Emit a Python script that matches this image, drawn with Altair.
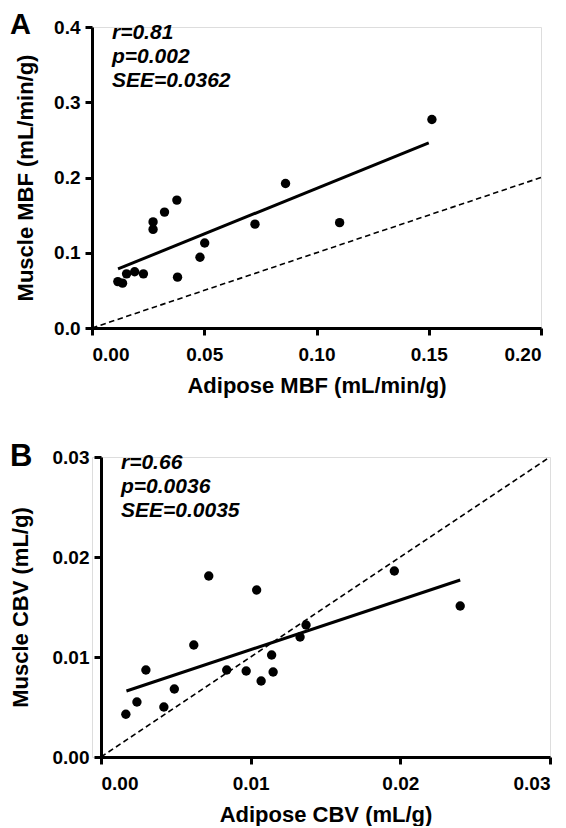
import altair as alt
import pandas as pd

# ---- Panel A data (MBF) ----
a_adipose = [0.0115, 0.0136, 0.0154, 0.0190, 0.0229, 0.0272, 0.0272, 0.0323,
             0.0378, 0.0381, 0.0481, 0.0502, 0.0726, 0.0862, 0.1103, 0.1514]
a_muscle = [0.0617, 0.0596, 0.0720, 0.0747, 0.0720, 0.1410, 0.1310, 0.1540,
            0.1700, 0.0676, 0.0940, 0.1130, 0.1380, 0.1920, 0.1400, 0.2770]
a_fit_x = [0.0116, 0.1500]
a_fit_y = [0.0785, 0.2460]
a_id = [0.0, 0.2]
a_stats = ["r=0.81", "p=0.002", "SEE=0.0362"]

# ---- Panel B data (CBV) ----
b_adipose = [0.00166, 0.0024, 0.0030, 0.0042, 0.0049, 0.0062, 0.0072, 0.0084,
             0.0097, 0.0104, 0.0107, 0.0114, 0.0115, 0.0133, 0.0137, 0.0196, 0.0240]
b_muscle = [0.00428, 0.0055, 0.0087, 0.0050, 0.0068, 0.0112, 0.0181, 0.0087,
            0.0086, 0.0167, 0.0076, 0.0102, 0.0085, 0.0120, 0.0132, 0.0186, 0.0151]
b_fit_x = [0.0017, 0.0240]
b_fit_y = [0.0066, 0.0177]
b_id = [0.0, 0.03]
b_stats = ["r=0.66", "p=0.0036", "SEE=0.0035"]

FONT = "Liberation Sans"


def axis(fmt, vals, title_x=None, title_y=None, offset=0):
    kw = dict(
        format=fmt, values=vals, domainColor="black", domainWidth=3,
        tickColor="black", tickWidth=3, tickSize=7, grid=False,
        labelFont=FONT, labelFontSize=19, labelFontWeight="bold", labelColor="black",
        titleFont=FONT, titleFontSize=22, titleFontWeight="bold", titleColor="black",
        titleBaseline="alphabetic", offset=offset,
    )
    if title_x is not None:
        kw["titleX"] = title_x
        kw["labelPadding"] = 5
    if title_y is not None:
        kw["titleY"] = title_y
        kw["labelPadding"] = 10
    return alt.Axis(**kw)


def panel(xs, ys, fx, fy, ident, stats, letter, xdom, ydom, xvals, yvals,
          xfmt, yfmt, xtitle, ytitle, ytitle_x, letter_y, letter_size, w, h, shift):
    # shift: pixels by which this panel's plot area starts right of the shared left edge
    xsc = alt.Scale(domain=xdom, nice=False, zero=False, range=[shift, w])
    ysc = alt.Scale(domain=ydom, nice=False, zero=False)
    pts = alt.Chart(pd.DataFrame({"x": xs, "y": ys})).mark_circle(
        size=88, color="black", opacity=1
    ).encode(
        x=alt.X("x:Q", scale=xsc, title=xtitle, axis=axis(xfmt, xvals, title_y=64)),
        y=alt.Y("y:Q", scale=ysc, title=ytitle,
                axis=axis(yfmt, yvals, title_x=ytitle_x, offset=-shift)),
    )
    fit = alt.Chart(pd.DataFrame({"x": fx, "y": fy})).mark_line(
        color="black", strokeWidth=3
    ).encode(x=alt.X("x:Q", scale=xsc), y=alt.Y("y:Q", scale=ysc))
    idl = alt.Chart(pd.DataFrame({"x": ident, "y": ident})).mark_line(
        color="black", strokeWidth=1.6, strokeDash=[5.5, 3.5]
    ).encode(x=alt.X("x:Q", scale=xsc), y=alt.Y("y:Q", scale=ysc))
    layers = [idl, fit, pts]
    for i, s in enumerate(stats):
        layers.append(
            alt.Chart(pd.DataFrame({"t": [s]})).mark_text(
                font=FONT, fontSize=21, fontWeight="bold", fontStyle="italic",
                align="left", baseline="alphabetic", color="black"
            ).encode(text="t:N", x=alt.value(20 + shift), y=alt.value(12 + 24 * i))
        )
    layers.append(
        alt.Chart(pd.DataFrame({"t": [letter]})).mark_text(
            font=FONT, fontSize=letter_size, fontWeight="bold",
            align="left", baseline="alphabetic", color="black"
        ).encode(text="t:N", x=alt.value(-82), y=alt.value(letter_y))
    )
    return alt.layer(*layers).properties(width=w, height=h)


chart_a = panel(a_adipose, a_muscle, a_fit_x, a_fit_y, a_id, a_stats, "A",
                [0, 0.2], [0, 0.4], [0, 0.05, 0.10, 0.15, 0.20], [0, 0.1, 0.2, 0.3, 0.4],
                ".2f", ".1f", "Adipose MBF (mL/min/g)", "Muscle MBF (mL/min/g)",
                -60, 7, 29, 449, 301, 0)
chart_b = panel(b_adipose, b_muscle, b_fit_x, b_fit_y, b_id, b_stats, "B",
                [0, 0.03], [0, 0.03], [0, 0.01, 0.02, 0.03], [0, 0.01, 0.02, 0.03],
                ".2f", ".2f", "Adipose CBV (mL/g)", "Muscle CBV (mL/g)",
                -74, 9, 31, 458, 300, 9)

chart = alt.concat(chart_a, chart_b, columns=1, spacing=43).properties(
    padding={"left": 0, "top": 2, "right": 0, "bottom": 0}
).configure_view(stroke="transparent").configure(background="white")

chart.save("out.html", embed_options={"renderer": "svg", "actions": False})
